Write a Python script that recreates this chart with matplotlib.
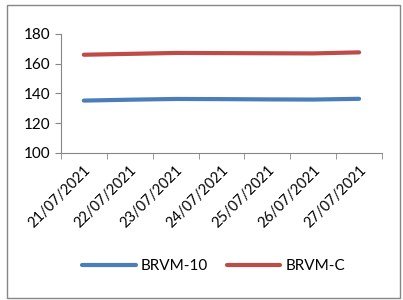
import numpy as np
import matplotlib.pyplot as plt
from matplotlib.patches import Rectangle

plt.rcParams['font.family'] = ['Lato', 'DejaVu Sans']

dates = ['21/07/2021', '22/07/2021', '23/07/2021', '24/07/2021',
         '25/07/2021', '26/07/2021', '27/07/2021']
brvm10 = [135.2, 135.8, 136.3, 136.2, 136.0, 135.9, 136.4]
brvmc = [166.0, 166.6, 167.2, 167.1, 167.0, 166.9, 167.6]

fig = plt.figure(figsize=(4.03, 3.0), dpi=100)
ax = fig.add_axes([0.151, 0.49, 0.797, 0.397])

x = np.arange(len(dates))
ax.plot(x, brvm10, color='#4A7EBB', lw=3, solid_capstyle='round', label='BRVM-10')
ax.plot(x, brvmc, color='#BE4B48', lw=3, solid_capstyle='round', label='BRVM-C')

ax.set_xlim(-0.5, len(dates) - 0.5)
ax.set_ylim(100, 180)
ax.set_yticks([100, 120, 140, 160, 180])

# labels at category centres, tick marks on boundaries
ax.set_xticks(x)
ax.set_xticklabels(dates, rotation=45, ha='right', rotation_mode='anchor')
ax.set_xticks(np.arange(-0.5, len(dates)), minor=True)
ax.tick_params(axis='x', which='major', length=0, pad=7, labelsize=10.5)
ax.tick_params(axis='x', which='minor', length=4, color='#868686')
ax.tick_params(axis='y', length=4, color='#868686', labelsize=11)

for s in ['top', 'right']:
    ax.spines[s].set_visible(False)
for s in ['left', 'bottom']:
    ax.spines[s].set_color('#868686')

fig.legend(loc='center', bbox_to_anchor=(0.53, 0.113), ncol=2, frameon=False,
           handlelength=3.5, handletextpad=0.35, columnspacing=1.2, fontsize=11)

fig.patches.append(Rectangle((7 / 403, 2 / 300), 393 / 403, 293 / 300,
                             transform=fig.transFigure, fill=False,
                             edgecolor='#868686', lw=1))

fig.savefig('out.png', dpi=100)
